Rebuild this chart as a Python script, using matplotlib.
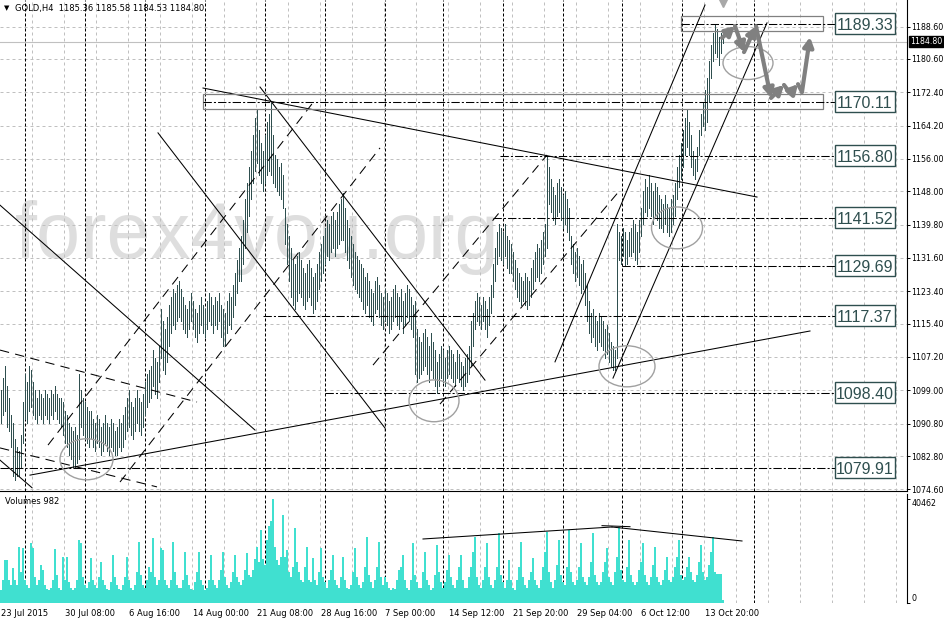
import numpy as np
import matplotlib.pyplot as plt
from matplotlib.patches import Rectangle, Ellipse
import matplotlib.transforms as mtransforms

plt.rcParams['font.family'] = ['DejaVu Sans']

# GOLD H4 bars (high / low), one bar every 4 hours, 23 Jul - 15 Oct 2015
highs = [
    1099, 1102, 1105, 1100, 1097, 1093, 1091, 1087, 1085, 1084, 1088, 1096, 1103, 1101, 1105,
    1104, 1101, 1099, 1097, 1099, 1098, 1097, 1099, 1098, 1097, 1099, 1098, 1100, 1098, 1097,
    1097, 1096, 1094, 1093, 1091, 1090, 1089, 1090, 1088, 1103, 1099, 1097, 1096, 1095, 1094,
    1094, 1092, 1091, 1093, 1092, 1090, 1091, 1093, 1091, 1090, 1092, 1091, 1089, 1090, 1092,
    1091, 1093, 1095, 1097, 1099, 1096, 1095, 1097, 1099, 1097, 1096, 1098, 1101, 1103, 1104,
    1105, 1109, 1107, 1106, 1110, 1119, 1116, 1114, 1117, 1120, 1122, 1124, 1123, 1125, 1126,
    1124, 1122, 1120, 1119, 1121, 1123, 1121, 1119, 1118, 1120, 1122, 1120, 1119, 1121, 1123,
    1122, 1120, 1122, 1121, 1123, 1120, 1119, 1118, 1121, 1123, 1122, 1125, 1128, 1131, 1134,
    1137, 1141, 1146, 1150, 1154, 1158, 1162, 1166, 1168, 1163, 1160, 1158, 1162, 1165, 1167,
    1169.8, 1162, 1157, 1156, 1154, 1155, 1152, 1144, 1140, 1137, 1134, 1131, 1130, 1132, 1133,
    1131, 1129, 1128, 1130, 1131, 1129, 1127, 1128, 1130, 1133, 1135, 1137, 1139, 1141, 1140,
    1142, 1143, 1141, 1143, 1145, 1146, 1147.5, 1144, 1141, 1139, 1137, 1135, 1133, 1132, 1131,
    1130, 1129, 1127, 1128, 1126, 1124, 1123, 1126, 1127, 1125, 1123, 1122, 1124, 1123, 1121,
    1122, 1124, 1125, 1123, 1122, 1124, 1121, 1123, 1125, 1124, 1122, 1120, 1121, 1114, 1112,
    1111, 1113, 1114, 1112, 1110, 1113, 1111, 1109, 1106, 1108, 1110, 1109, 1107, 1109, 1110,
    1109, 1108, 1106, 1109, 1108, 1106, 1105, 1107, 1108, 1110, 1116, 1118, 1121, 1123, 1122,
    1120, 1122, 1121, 1119, 1122, 1125, 1130, 1134, 1138, 1140, 1139, 1138, 1140, 1137, 1136,
    1135, 1133, 1131, 1129, 1128, 1127, 1126, 1128, 1127, 1126, 1129, 1131, 1133, 1135, 1134,
    1136, 1138, 1140, 1156.8, 1154, 1151, 1149, 1147, 1150, 1151, 1149, 1147, 1148, 1146, 1144,
    1137, 1135, 1133, 1134, 1132, 1130, 1131, 1128, 1125, 1121, 1118, 1119, 1117, 1116, 1118,
    1117, 1116, 1114, 1115, 1113, 1111, 1110, 1109, 1140, 1138, 1137, 1139, 1138, 1136, 1138,
    1139, 1141, 1140, 1138, 1141, 1144, 1148, 1151, 1149, 1152, 1150, 1148, 1150, 1149, 1147,
    1146, 1145, 1147, 1145, 1144, 1146, 1147, 1150, 1154, 1157, 1160, 1163, 1166, 1168, 1165,
    1162, 1158, 1156, 1159, 1163, 1167, 1170, 1173, 1176, 1180, 1184, 1187, 1189.3, 1188, 1186,
    1187, 1185.58,
]
lows = [
    1091, 1093, 1094, 1090, 1089, 1085, 1078, 1077, 1078, 1078, 1080, 1086, 1092, 1091, 1094,
    1095, 1093, 1092, 1091, 1093, 1092, 1091, 1093, 1092, 1091, 1093, 1092, 1094, 1092, 1091,
    1090, 1088, 1086, 1085, 1083, 1082, 1080, 1080, 1081, 1082, 1090, 1088, 1087, 1086, 1085,
    1087, 1085, 1084, 1086, 1085, 1083, 1084, 1086, 1084, 1083, 1085, 1084, 1083, 1083, 1085,
    1084, 1085, 1087, 1089, 1090, 1088, 1087, 1089, 1091, 1089, 1088, 1090, 1093, 1095, 1096,
    1097, 1100, 1098, 1097, 1101, 1107, 1104, 1103, 1106, 1110, 1113, 1115, 1114, 1116, 1117,
    1116, 1114, 1113, 1112, 1114, 1116, 1114, 1112, 1111, 1113, 1115, 1113, 1112, 1114, 1116,
    1115, 1113, 1115, 1114, 1116, 1112, 1110, 1110, 1113, 1115, 1114, 1117, 1120, 1123, 1126,
    1126, 1130, 1134, 1138, 1142, 1146, 1150, 1153, 1155, 1152, 1150, 1148, 1150, 1152, 1153,
    1152, 1150, 1149, 1148, 1147, 1146, 1144, 1135, 1130, 1126, 1122, 1120, 1119, 1121, 1123,
    1122, 1120, 1119, 1121, 1122, 1120, 1118, 1119, 1121, 1124, 1126, 1128, 1130, 1132, 1131,
    1133, 1134, 1132, 1134, 1135, 1136, 1136, 1133, 1131, 1129, 1127, 1125, 1124, 1123, 1122,
    1121, 1119, 1118, 1120, 1117, 1116, 1115, 1118, 1119, 1117, 1115, 1114, 1116, 1115, 1113,
    1114, 1116, 1117, 1115, 1114, 1116, 1113, 1115, 1117, 1116, 1114, 1112, 1103, 1101, 1102,
    1103, 1104, 1105, 1103, 1101, 1104, 1102, 1100, 1098.4, 1100, 1102, 1101, 1100, 1102, 1103,
    1102, 1101, 1100, 1102, 1101, 1100, 1099, 1100, 1101, 1103, 1105, 1110, 1114, 1116, 1115,
    1114, 1116, 1114, 1112, 1115, 1118, 1122, 1126, 1130, 1132, 1131, 1130, 1132, 1129, 1128,
    1128, 1126, 1124, 1122, 1121, 1120, 1121, 1120, 1119, 1120, 1122, 1124, 1126, 1127, 1126,
    1128, 1130, 1132, 1134, 1145, 1143, 1141, 1140, 1142, 1143, 1141, 1139, 1140, 1138, 1136,
    1130, 1128, 1126, 1127, 1125, 1123, 1124, 1120, 1116, 1113, 1111, 1112, 1110, 1109, 1111,
    1110, 1109, 1107, 1108, 1106, 1105, 1104, 1104, 1107, 1131, 1130, 1132, 1129.7, 1130, 1132,
    1132, 1133, 1131, 1130, 1133, 1137, 1140, 1143, 1142, 1144, 1142, 1140, 1142, 1141, 1139,
    1139, 1138, 1140, 1138, 1137, 1138, 1140, 1142, 1146, 1149, 1151, 1154, 1157, 1159, 1157,
    1154, 1152, 1151, 1153, 1157, 1162, 1164, 1163, 1165, 1170, 1176, 1180, 1182, 1181, 1179,
    1182, 1184.53,
]
volumes = [
    5000, 9000, 16800, 16800, 9000, 7000, 13500, 9000, 7000, 22000, 12000, 21300, 9000, 7000, 6000,
    23300, 21300, 10000, 7000, 9000, 14800, 12900, 7000, 5500, 5000, 6000, 9000, 21000, 11000, 6000,
    5000, 18100, 9000, 18100, 8000, 6000, 5000, 6000, 9000, 24600, 23300, 10000, 7000, 6000, 8000,
    17400, 9000, 7000, 6000, 10000, 16100, 9000, 7000, 5500, 5000, 8000, 18700, 10000, 7000, 5500,
    5000, 7000, 10000, 18100, 9000, 6000, 5000, 7000, 12000, 23900, 11000, 7000, 6000, 9000, 14000,
    12000, 25200, 10000, 7000, 9000, 21300, 20700, 9000, 7000, 6000, 9000, 23900, 12000, 7000, 6000,
    6000, 9000, 20000, 11000, 7000, 5500, 5000, 8000, 12000, 20000, 9000, 7000, 5000, 6000, 9000,
    18700, 9000, 7000, 6000, 9000, 13000, 20000, 10000, 7000, 6000, 8000, 12000, 18700, 10000, 8000,
    7000, 9000, 13000, 19400, 11000, 10000, 13000, 17000, 22000, 16000, 28500, 17000, 15000, 24600, 30000,
    32000, 40462, 22000, 16800, 15000, 18000, 34300, 18000, 20700, 12000, 10000, 14000, 29100, 16000, 12000,
    9000, 8000, 14000, 22000, 9000, 8000, 17400, 9000, 7000, 12000, 21300, 10000, 8000, 6000, 9000,
    13000, 18700, 9000, 7000, 6000, 10000, 18100, 9000, 6000, 5500, 7000, 12000, 21300, 10000, 7000,
    6000, 8000, 14000, 25900, 11000, 8000, 6000, 9000, 14000, 23900, 10000, 7000, 10300, 8000, 6000,
    5000, 6000, 5500, 9000, 13000, 14000, 18700, 9000, 6000, 5000, 9000, 23300, 11000, 8000, 6000,
    6000, 12000, 20000, 9000, 7000, 5000, 6000, 11000, 22600, 12000, 8000, 6000, 8000, 13000, 18700,
    10000, 7000, 6000, 9000, 14000, 18700, 9000, 6000, 6000, 10000, 14000, 20000, 25900, 10000, 7000,
    6000, 9000, 14000, 23300, 10000, 7000, 6000, 9000, 14000, 27200, 11000, 8000, 6000, 9000, 16800,
    9000, 6000, 5000, 9000, 14000, 23900, 10000, 7000, 6000, 9000, 12000, 17400, 9000, 7000, 6000,
    9000, 14000, 20000, 27800, 12000, 8000, 6000, 9000, 15000, 24600, 11000, 8000, 7000, 14000, 28500,
    12000, 8000, 7000, 9000, 14000, 23300, 10000, 8000, 7000, 10000, 16000, 27200, 11000, 8000, 7000,
    8000, 12000, 16000, 21300, 10000, 8000, 7000, 12000, 18000, 29800, 13000, 9000, 8000, 14000, 24600,
    11000, 8000, 7000, 8000, 13000, 16000, 23300, 11000, 8000, 7000, 10000, 15000, 22000, 10000, 8000,
    7000, 9000, 13000, 18100, 9000, 8000, 10000, 14000, 18000, 24600, 11000, 9000, 10000, 14000, 18100,
    12000, 9000, 8000, 11000, 16000, 22600, 12000, 9000, 10000, 15000, 20000, 25900, 12000, 11500, 11500,
    11500, 982,
]

price_ticks = [1188.60, 1180.60, 1172.40, 1164.20, 1156.00, 1148.00, 1139.80, 1131.60,
               1123.40, 1115.40, 1107.20, 1099.00, 1090.80, 1082.80, 1074.60]
time_labels = ['23 Jul 2015', '30 Jul 08:00', '6 Aug 16:00', '14 Aug 00:00', '21 Aug 08:00',
               '28 Aug 16:00', '7 Sep 00:00', '14 Sep 12:00', '21 Sep 20:00', '29 Sep 04:00',
               '6 Oct 12:00', '13 Oct 20:00']
time_label_bars = [0, 32, 64, 96, 128, 160, 192, 224, 256, 288, 320, 352]
week_separators = [12, 42, 72, 102, 132, 162, 192, 221, 251, 281, 310.5, 340.5, 376.5]

# drawn objects: (bar, price) anchors
solid_lines = [((101, 1173.45), (378, 1146.6)), ((14.5, 1078.1), (404.5, 1113.6)),
               ((-0.5, 1144.6), (127, 1089.2)), ((78.5, 1162.4), (192, 1089.7)),
               ((129.5, 1173.7), (242, 1101.5)), ((277, 1106.0), (352, 1193.9)),
               ((306, 1102.0), (383, 1189.5)), ((-0.5, 1081.8), (15.5, 1075.0))]
dashed_lines = [((-0.5, 1108.9), (98, 1096.1)), ((-0.5, 1084.8), (78, 1075.2)),
                ((23.5, 1085.5), (157, 1170.5)), ((59.5, 1076.4), (189.5, 1158.7)),
                ((186, 1105.2), (273, 1156.95)), ((219.5, 1095.6), (309.5, 1148.3))]
levels = [1189.33, 1170.11, 1156.80, 1141.52, 1129.69, 1117.37, 1098.40, 1079.91]
level_starts = [340, 101, 249.5, 246, 310.5, 131, 162, -0.5]
zones = [(340, 411, 1187.49, 1191.19), (101, 411, 1168.28, 1171.97)]
ellipses = [(373.5, 1179.6, 25, 8.1), (338, 1139.0, 25.5, 10.3), (313, 1104.9, 28, 10.1),
            (216.5, 1096.4, 25, 10.3), (42.75, 1082.0, 26.5, 10.1)]
arrow_path = [(360.5, 1185.8), (367, 1188.7), (371.5, 1182.3), (377.5, 1188.7), (385, 1171.0),
              (391.5, 1174.2), (394.5, 1172.2), (398.5, 1174.4), (400.5, 1172.5), (404.5, 1186.0)]
arrow_heads = [True, True, True, True, True, False, True, False, True]
volume_lines = [((211, 24960), (305.5, 29640)), ((305.5, 29640), (370.5, 24180)),
                ((300.5, 30150), (314.5, 29760))]
last_price = 1184.80

bar_col = '#2F4F4F'
grid_col = '#C0C0C0'
x = np.arange(len(highs))

fig = plt.figure(figsize=(9.45, 6.22), dpi=100)
ax1 = fig.add_axes([0, 1 - 491 / 622, 907 / 945, 491 / 622])
ax2 = fig.add_axes([0, 1 - 603 / 622, 907 / 945, 109 / 622])

for ax in (ax1, ax2):
    ax.set_xlim(-0.5, 453)
    for k in range(1, 29):
        ax.axvline(16 * k - 0.25, color=grid_col, lw=0.72, ls=(0, (3, 3)), zorder=1)
    for s in week_separators:
        ax.axvline(s, color='black', lw=0.72, ls=(0, (3, 2)), zorder=1.5)
    ax.spines['top'].set_visible(False)
    ax.spines['left'].set_visible(False)
    ax.spines['right'].set_linewidth(0.8)
    ax.yaxis.tick_right()
    ax.tick_params(axis='y', length=2, width=0.7, pad=1, labelsize=5.7)

# price panel
ax1.set_ylim(1074.19, 1195.13)
ax1.set_yticks(price_ticks)
ax1.set_yticklabels([f'{p:.2f}' for p in price_ticks])
ax1.set_xticks([])
ax1.spines['bottom'].set_linewidth(0.8)
for p in price_ticks:
    ax1.axhline(p, color=grid_col, lw=0.72, ls=(0, (3, 3)), zorder=1)

ax1.text(7, 1131.6, 'forex4you.org', fontsize=57, color='#DEDEDE',
         family='Liberation Sans', va='baseline', ha='left', zorder=0.8)

ax1.axhline(last_price, color=grid_col, lw=0.8, zorder=1.2)
ax1.vlines(x, lows, highs, colors=bar_col, lw=0.6, zorder=2, antialiased=False)

for (x0, y0), (x1, y1) in solid_lines:
    ax1.plot([x0, x1], [y0, y1], color='black', lw=0.75, zorder=3)
for (x0, y0), (x1, y1) in dashed_lines:
    ax1.plot([x0, x1], [y0, y1], color='black', lw=0.75, ls=(0, (9, 6)), zorder=3)

for x0, x1, y0, y1 in zones:
    ax1.add_patch(Rectangle((x0, y0), x1 - x0, y1 - y0, fill=False,
                            edgecolor='#808080', lw=0.9, zorder=3))

for p, s in zip(levels, level_starts):
    ax1.plot([s, 417], [p, p], color='black', lw=0.75, ls=(0, (8, 2, 2, 2)), zorder=3)
    ax1.add_patch(Rectangle((417, p - 2.6), 30, 5.2, facecolor='white',
                            edgecolor=bar_col, lw=1, zorder=5))
    ax1.text(432, p, f'{p:.2f}', ha='center', va='center_baseline', fontsize=11.5,
             family='Liberation Sans', color=bar_col, zorder=6)

for cx, cy, w, h in ellipses:
    ax1.add_patch(Ellipse((cx, cy), w, h, fill=False, edgecolor='#A0A0A0', lw=1, zorder=4))

for (p0, p1), head in zip(zip(arrow_path[:-1], arrow_path[1:]), arrow_heads):
    if head:
        ax1.annotate('', xy=p1, xytext=p0, zorder=6,
                     arrowprops=dict(arrowstyle='-|>,head_length=0.55,head_width=0.3',
                                     lw=3, color='#808080', shrinkA=0, shrinkB=0))
    else:
        ax1.plot([p0[0], p1[0]], [p0[1], p1[1]], color='#808080', lw=3,
                 solid_capstyle='round', zorder=6)
ax1.plot([361], [1194.4], marker='v', ms=6, color='#A8A8A8', zorder=6, clip_on=True)

trans = mtransforms.blended_transform_factory(ax1.transAxes, ax1.transData)
ax1.text(1.003, last_price, f'{last_price:.2f}', transform=trans, ha='left', va='center',
         fontsize=5.7, color='white', zorder=7,
         bbox=dict(boxstyle='square,pad=0.12', facecolor='black', edgecolor='black'))

# volume panel
ax2.set_ylim(0, 42500)
ax2.bar(x, volumes, width=1.0, color='#40E0D0', lw=0, zorder=2)
for (x0, y0), (x1, y1) in volume_lines:
    ax2.plot([x0, x1], [y0, y1], color='black', lw=0.75, zorder=3)
ax2.spines['top'].set_linewidth(0.8)
ax2.spines['bottom'].set_visible(False)
ax2.set_yticks([0, 40462])
ax2.set_yticklabels(['0', '40462'])
for lbl, va in zip(ax2.get_yticklabels(), ['bottom', 'top']):
    lbl.set_va(va)
ax2.set_xticks(time_label_bars)
ax2.set_xticklabels(time_labels, ha='left', fontsize=6)
ax2.tick_params(axis='x', length=0, pad=4)

fig.text(4 / 945, 1 - 8 / 622, '\u25bc', fontsize=5, va='center')
fig.text(15 / 945, 1 - 8 / 622, 'GOLD,H4  1185.36 1185.58 1184.53 1184.80',
         fontsize=6, va='center')
fig.text(5 / 945, 1 - 502 / 622, 'Volumes 982', fontsize=6, va='center')

fig.savefig('out.png', dpi=100)
